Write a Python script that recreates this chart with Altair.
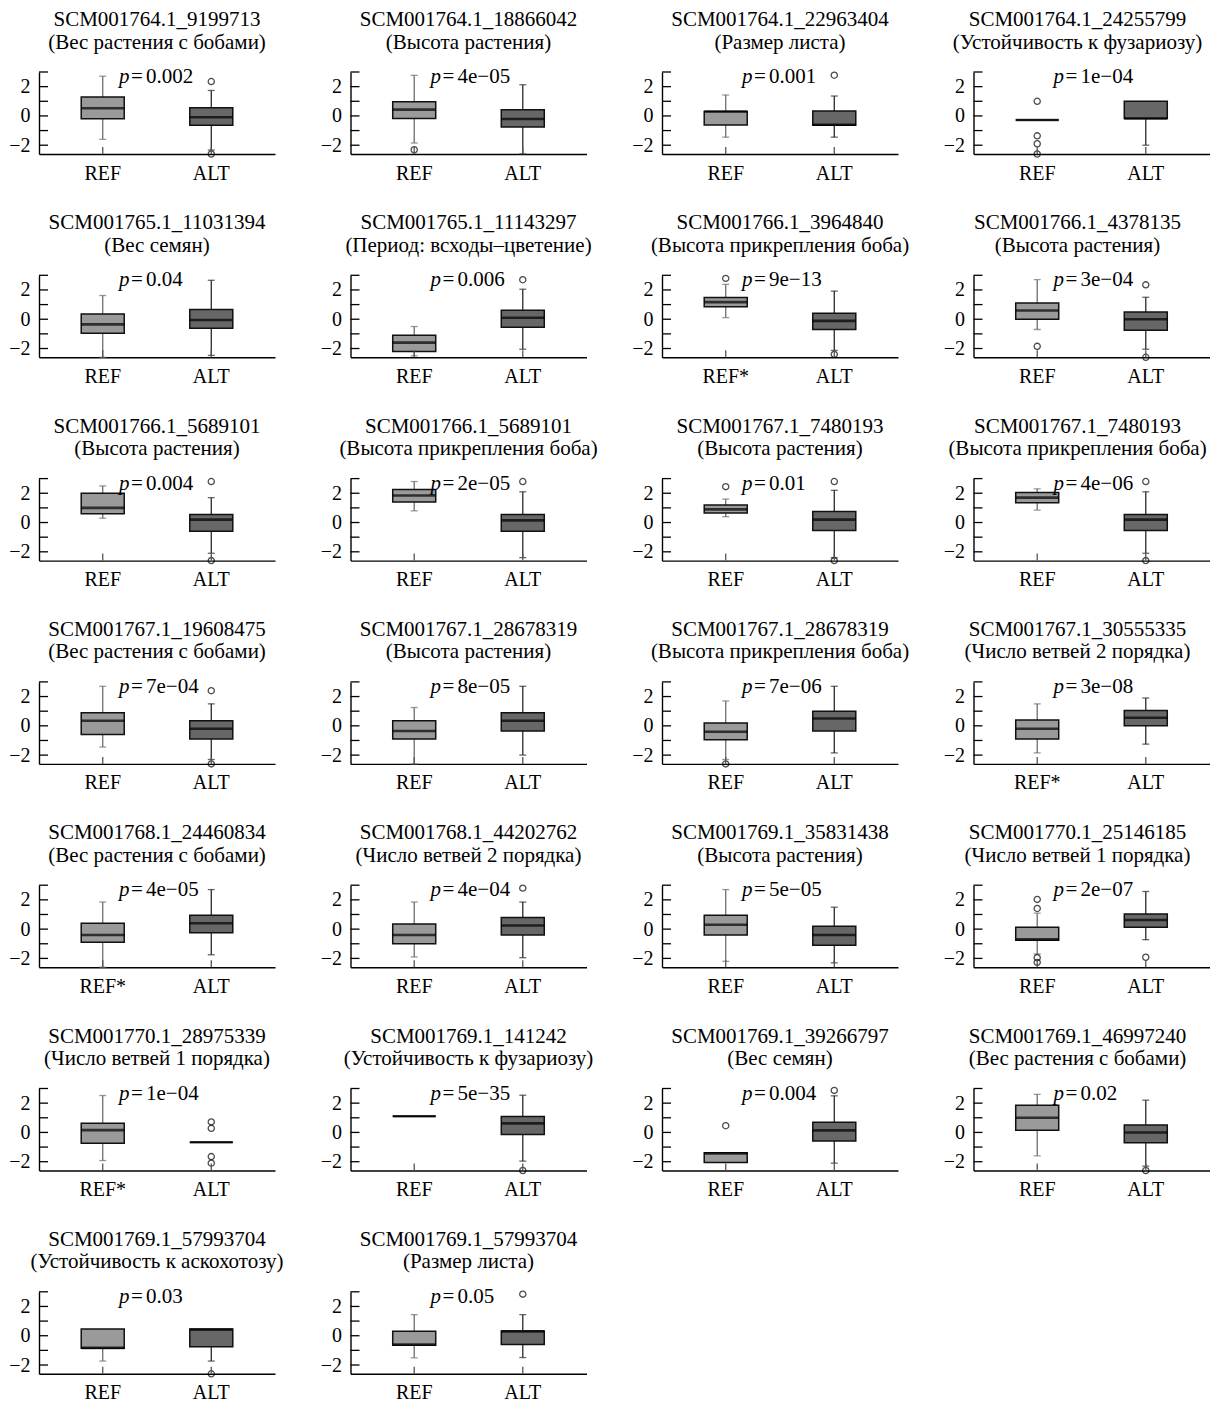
import altair as alt
import pandas as pd

# ---------------- data ----------------
markers = [
    "SCM001764.1_9199713", "SCM001764.1_18866042", "SCM001764.1_22963404", "SCM001764.1_24255799",
    "SCM001765.1_11031394", "SCM001765.1_11143297", "SCM001766.1_3964840", "SCM001766.1_4378135",
    "SCM001766.1_5689101", "SCM001766.1_5689101", "SCM001767.1_7480193", "SCM001767.1_7480193",
    "SCM001767.1_19608475", "SCM001767.1_28678319", "SCM001767.1_28678319", "SCM001767.1_30555335",
    "SCM001768.1_24460834", "SCM001768.1_44202762", "SCM001769.1_35831438", "SCM001770.1_25146185",
    "SCM001770.1_28975339", "SCM001769.1_141242", "SCM001769.1_39266797", "SCM001769.1_46997240",
    "SCM001769.1_57993704", "SCM001769.1_57993704",
]
traits = [
    "Вес растения с бобами", "Высота растения", "Размер листа", "Устойчивость к фузариозу",
    "Вес семян", "Период: всходы–цветение", "Высота прикрепления боба", "Высота растения",
    "Высота растения", "Высота прикрепления боба", "Высота растения", "Высота прикрепления боба",
    "Вес растения с бобами", "Высота растения", "Высота прикрепления боба", "Число ветвей 2 порядка",
    "Вес растения с бобами", "Число ветвей 2 порядка", "Высота растения", "Число ветвей 1 порядка",
    "Число ветвей 1 порядка", "Устойчивость к фузариозу", "Вес семян", "Вес растения с бобами",
    "Устойчивость к аскохотозу", "Размер листа",
]
pvals = [
    "0.002", "4e\u221205", "0.001", "1e\u221204",
    "0.04", "0.006", "9e\u221213", "3e\u221204",
    "0.004", "2e\u221205", "0.01", "4e\u221206",
    "7e\u221204", "8e\u221205", "7e\u221206", "3e\u221208",
    "4e\u221205", "4e\u221204", "5e\u221205", "2e\u221207",
    "1e\u221204", "5e\u221235", "0.004", "0.02",
    "0.03", "0.05",
]
ref_labels = [
    "REF", "REF", "REF", "REF", "REF", "REF", "REF*", "REF",
    "REF", "REF", "REF", "REF", "REF", "REF", "REF", "REF*",
    "REF*", "REF", "REF", "REF", "REF*", "REF", "REF", "REF",
    "REF", "REF",
]

# REF group: quartiles, whisker ends (None = no whisker), outliers
ref_q1 = [-0.20, -0.18, -0.62, -0.28, -0.95, -2.20, 0.85, 0.00, 0.60, 1.40, 0.65, 1.35, -0.60,
          -0.90, -0.95, -0.90, -0.90, -1.00, -0.40, -0.76, -0.74, 1.10, -2.06, 0.15, -0.86, -0.65]
ref_med = [0.52, 0.43, 0.30, -0.28, -0.35, -1.60, 1.17, 0.60, 1.00, 1.85, 0.90, 1.70, 0.35,
           -0.35, -0.40, -0.20, -0.40, -0.40, 0.30, -0.70, 0.16, 1.10, -1.43, 1.00, -0.83, -0.60]
ref_q3 = [1.29, 0.96, 0.30, -0.28, 0.35, -1.10, 1.49, 1.10, 2.00, 2.25, 1.20, 2.05, 0.90,
          0.35, 0.20, 0.40, 0.40, 0.35, 0.95, 0.12, 0.62, 1.10, -1.39, 1.85, 0.46, 0.30]
ref_lo = [-1.60, -1.85, -1.45, None, -2.60, -2.50, 0.11, -0.70, 0.30, 0.80, 0.40, 0.85, -1.45,
          -2.60, -2.30, -1.85, -2.60, -1.90, -2.20, -1.70, -1.92, None, None, -1.60, -1.73, -1.51]
ref_hi = [2.71, 2.77, 1.43, None, 1.62, -0.50, 2.38, 2.70, 2.50, 2.80, 1.60, 2.30, 2.70,
          1.25, 1.70, 1.50, 1.85, 1.85, 2.70, 1.09, 2.52, None, None, 2.60, None, 1.44]
ref_out = [[], [-2.31], [], [1.0, -1.36, -1.9, -2.6], [], [], [2.79], [-1.85],
           [], [], [2.45], [], [], [], [-2.6], [],
           [], [], [], [2.03, 1.41, -1.95, -2.27], [], [], [0.46], [],
           [], []]

# ALT group
alt_q1 = [-0.63, -0.75, -0.64, -0.18, -0.62, -0.55, -0.71, -0.75, -0.60, -0.60, -0.55, -0.55, -0.90,
          -0.35, -0.35, 0.00, -0.25, -0.40, -1.10, 0.12, -0.67, -0.14, -0.58, -0.70, -0.76, -0.60]
alt_med = [-0.09, -0.21, -0.60, -0.18, -0.05, 0.10, -0.11, 0.00, 0.20, 0.15, 0.20, 0.20, -0.20,
           0.35, 0.50, 0.55, 0.40, 0.25, -0.40, 0.62, -0.67, 0.62, 0.14, 0.00, 0.42, 0.30]
alt_q3 = [0.56, 0.43, 0.34, 1.00, 0.67, 0.62, 0.41, 0.50, 0.55, 0.55, 0.75, 0.55, 0.35,
          0.90, 1.00, 1.05, 0.95, 0.80, 0.20, 1.04, -0.67, 1.08, 0.69, 0.50, 0.46, 0.33]
alt_lo = [-2.33, -2.60, -1.45, -2.00, -2.47, -2.05, -2.13, -2.05, -2.10, -2.40, -2.40, -2.10, -2.30,
          -2.00, -1.85, -1.25, -1.75, -1.95, -2.30, -0.72, None, -1.96, -2.10, -2.30, -1.73, -1.49]
alt_hi = [1.74, 2.13, 1.36, None, 2.66, 2.05, 1.92, 1.50, 1.70, 2.10, 2.20, 2.10, 1.50,
          2.70, 2.70, 1.90, 2.70, 1.85, 1.50, 2.57, None, 2.54, 2.50, 2.20, None, 1.44]
alt_out = [[2.35, -2.6], [], [2.78], [], [], [2.7], [-2.4], [2.35, -2.6],
           [2.8, -2.6], [2.8], [2.8, -2.6], [2.8, -2.6], [2.4, -2.6], [], [], [],
           [], [2.8], [], [-1.92], [0.72, 0.28, -1.65, -2.1], [-2.6], [2.87], [-2.6],
           [-2.6], [2.84]]

y_tick_values = [-2, -1, 0, 1, 2, 3]
y_label_values = [-2, 0, 2]

# ---------------- style ----------------
FONT = "Liberation Serif"
W, H = 236, 82
YMIN, YMAX = -2.6, 3.0
BOX_FILL = ["#9a9a9a", "#676767"]
WHISK = ["#6e6e6e", "#2a2a2a"]


def panel(i):
    ref = ref_labels[i]
    dom = [ref, "ALT"]
    groups = [
        (ref, "REF", ref_q1[i], ref_med[i], ref_q3[i], ref_lo[i], ref_hi[i], ref_out[i]),
        ("ALT", "ALT", alt_q1[i], alt_med[i], alt_q3[i], alt_lo[i], alt_hi[i], alt_out[i]),
    ]
    box_rows, wh_rows, cap_rows, out_rows = [], [], [], []
    for g, kind, q1, med, q3, lo, hi, outs in groups:
        box_rows.append(dict(grp=g, kind=kind, q1=q1, med=med, q3=q3))
        if lo is not None:
            wh_rows.append(dict(grp=g, kind=kind, y=lo, y2=q1))
            cap_rows.append(dict(grp=g, kind=kind, y=lo))
        if hi is not None:
            wh_rows.append(dict(grp=g, kind=kind, y=q3, y2=hi))
            cap_rows.append(dict(grp=g, kind=kind, y=hi))
        for o in outs:
            out_rows.append(dict(grp=g, kind=kind, y=o))

    xscale = alt.Scale(domain=dom, paddingInner=0, paddingOuter=0.087)
    xaxis = alt.Axis(title=None, labelFont=FONT, labelFontSize=20, labelColor="black",
                     labelAngle=0, ticks=False, labelPadding=9, domainColor="black",
                     domainWidth=1.4, grid=False)
    yscale = alt.Scale(domain=[YMIN, YMAX], nice=False, zero=False)
    yaxis = alt.Axis(title=None, values=y_label_values, labelFont=FONT, labelFontSize=20,
                     labelColor="black", ticks=False, labelPadding=9, domainColor="black",
                     domainWidth=1.4, grid=False)

    def X():
        return alt.X("grp:N", scale=xscale, axis=xaxis)

    kind_scale_fill = alt.Scale(domain=["REF", "ALT"], range=BOX_FILL)
    kind_scale_wh = alt.Scale(domain=["REF", "ALT"], range=WHISK)

    layers = []
    if wh_rows:
        layers.append(
            alt.Chart(pd.DataFrame(wh_rows)).mark_rule(strokeWidth=1.3).encode(
                x=X(),
                y=alt.Y("y:Q", scale=yscale, axis=yaxis),
                y2="y2:Q",
                stroke=alt.Stroke("kind:N", scale=kind_scale_wh, legend=None),
            )
        )
        layers.append(
            alt.Chart(pd.DataFrame(cap_rows)).mark_tick(size=7, thickness=1.3).encode(
                x=X(),
                y=alt.Y("y:Q", scale=yscale, axis=yaxis),
                color=alt.Color("kind:N", scale=kind_scale_wh, legend=None),
            )
        )
    layers.append(
        alt.Chart(pd.DataFrame(box_rows)).mark_bar(size=43, stroke="#111111", strokeWidth=1.5).encode(
            x=X(),
            y=alt.Y("q1:Q", scale=yscale, axis=yaxis),
            y2="q3:Q",
            fill=alt.Fill("kind:N", scale=kind_scale_fill, legend=None),
        )
    )
    layers.append(
        alt.Chart(pd.DataFrame(box_rows)).mark_tick(size=43, thickness=2.6, color="#000000").encode(
            x=X(),
            y=alt.Y("med:Q", scale=yscale, axis=yaxis),
        )
    )
    if out_rows:
        layers.append(
            alt.Chart(pd.DataFrame(out_rows)).mark_point(shape="circle", filled=False, size=38,
                                                         strokeWidth=1.3, color="#000000").encode(
                x=X(),
                y=alt.Y("y:Q", scale=yscale, axis=yaxis),
            )
        )
    # inward ticks on y axis
    layers.append(
        alt.Chart(pd.DataFrame({"t": y_tick_values})).mark_rule(color="black", strokeWidth=1.3).encode(
            y=alt.Y("t:Q", scale=yscale, axis=yaxis),
            x=alt.value(0),
            x2=alt.value(9),
        )
    )
    # inward ticks on x axis
    layers.append(
        alt.Chart(pd.DataFrame({"grp": dom})).mark_rule(color="#555555", strokeWidth=1.3).encode(
            x=X(),
            y=alt.value(H),
            y2=alt.value(H - 7),
        )
    )
    # p-value label
    ptxt = pd.DataFrame({"p": ["p"], "eq": ["="], "v": [pvals[i]],
                         "t1": [markers[i]], "t2": [f"({traits[i]})"]})
    base = alt.Chart(ptxt)
    layers.append(base.mark_text(align="left", baseline="alphabetic", font=FONT, fontSize=21,
                                 fontStyle="italic", color="black").encode(
        text="p:N", x=alt.value(80), y=alt.value(11)))
    layers.append(base.mark_text(align="left", baseline="alphabetic", font=FONT, fontSize=21,
                                 color="black").encode(
        text="eq:N", x=alt.value(92), y=alt.value(11)))
    layers.append(base.mark_text(align="left", baseline="alphabetic", font=FONT, fontSize=21,
                                 color="black").encode(
        text="v:N", x=alt.value(107), y=alt.value(11)))
    # two-line panel title
    cx = W / 2 - (14 if i % 4 == 3 else 0)
    layers.append(base.mark_text(align="center", baseline="alphabetic", font=FONT, fontSize=21,
                                 color="black").encode(
        text="t1:N", x=alt.value(cx), y=alt.value(-46)))
    layers.append(base.mark_text(align="center", baseline="alphabetic", font=FONT, fontSize=21,
                                 color="black").encode(
        text="t2:N", x=alt.value(cx), y=alt.value(-23.5)))

    return alt.layer(*layers).properties(width=W, height=H)


panels = [panel(i) for i in range(len(markers))]

chart = alt.concat(*panels, columns=4, spacing={"row": 121.3, "column": 75.5},
                   bounds="flush", align="all").configure_view(stroke=None).properties(
    padding={"left": 0, "top": 1, "right": 0, "bottom": 0}
)

chart.save("out.html", embed_options={"renderer": "svg", "actions": False})
